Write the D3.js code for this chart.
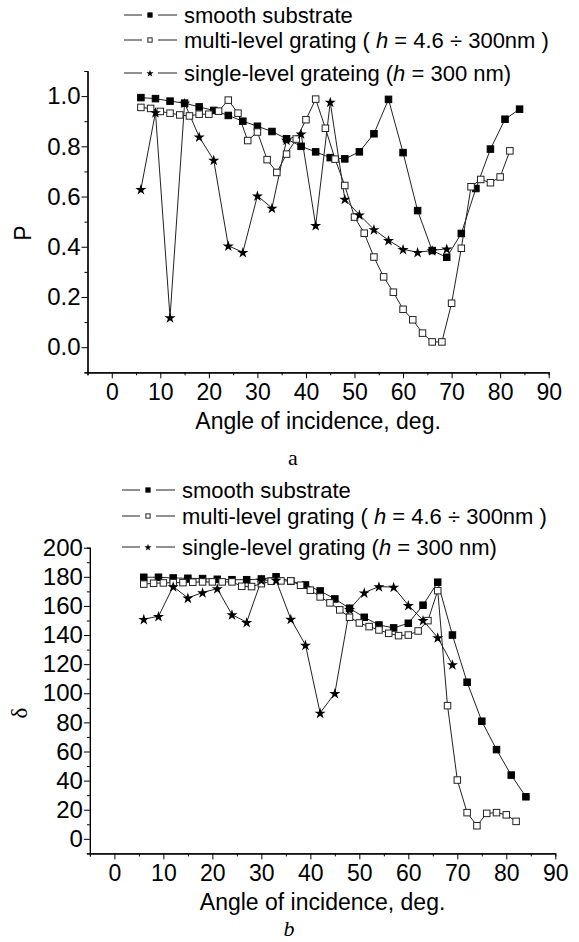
<!DOCTYPE html>
<html>
<head>
<meta charset="utf-8">
<script src="https://cdn.jsdelivr.net/npm/d3@7"></script>
<style>
  body { margin: 0; background: #fff; }
  text { font-family: "Liberation Sans", Arial, sans-serif; fill: #000; }
</style>
</head>
<body>
<script>
// angles of incidence, deg.
var angSmooth = [6, 9, 12, 15, 18, 21, 24, 27, 30, 33, 36, 39, 42, 45, 48, 51, 54, 57, 60, 63, 66, 69, 72, 75, 78, 81, 84];
var angMulti = [6, 8, 10, 12, 14, 16, 18, 20, 22, 24, 26, 28, 30, 32, 34, 36, 38, 40, 42, 44, 46, 48, 50, 52, 54, 56, 58, 60, 62, 64, 66, 68, 70, 72, 74, 76, 78, 80, 82];
var angSingle = [6, 9, 12, 15, 18, 21, 24, 27, 30, 33, 36, 39, 42, 45, 48, 51, 54, 57, 60, 63, 66, 69];

// panel a: P
var pSmooth = [0.994, 0.99, 0.98, 0.972, 0.957, 0.943, 0.923, 0.90, 0.88, 0.859, 0.83, 0.80, 0.778, 0.755, 0.75, 0.778, 0.85, 0.987, 0.775, 0.544, 0.385, 0.358, 0.453, 0.632, 0.789, 0.908, 0.948];
var pMulti = [0.955, 0.951, 0.939, 0.932, 0.925, 0.921, 0.928, 0.928, 0.94, 0.984, 0.932, 0.823, 0.857, 0.747, 0.696, 0.769, 0.829, 0.906, 0.988, 0.872, 0.749, 0.644, 0.518, 0.454, 0.359, 0.28, 0.219, 0.151, 0.109, 0.056, 0.021, 0.021, 0.175, 0.394, 0.639, 0.668, 0.655, 0.678, 0.782];
var pSingle = [0.629, 0.935, 0.118, 0.972, 0.838, 0.745, 0.404, 0.378, 0.603, 0.554, 0.825, 0.85, 0.485, 0.976, 0.59, 0.527, 0.469, 0.426, 0.39, 0.378, 0.385, 0.392];

// panel b: delta
var dSmooth = [179.7, 179.7, 179.2, 179, 178.8, 178.3, 178, 178, 178.5, 180, 177, 174.4, 170.3, 164.8, 158.4, 152.2, 146.9, 144.9, 148.1, 160.5, 176.3, 140, 107.6, 80.8, 61.3, 43.8, 28.9];
var dMulti = [175, 175.6, 175.8, 176, 176, 176.3, 176.5, 176.5, 176.5, 176.5, 173.5, 173.3, 175.3, 177, 177.2, 177.2, 174.2, 170.8, 166.2, 162.1, 157.3, 152.2, 148.3, 145.8, 143.5, 141.2, 139.6, 140, 142.8, 149.9, 170.5, 91.5, 40.4, 18, 9, 17.5, 18, 16.5, 12];
var dSingle = [150.9, 152.9, 173.3, 165.5, 169.2, 171.9, 154, 148.8, 177.7, 177.7, 151, 133.2, 86.5, 100, 157.7, 169.1, 173.3, 172.9, 160.5, 150.2, 138.2, 119.7];

var xMajor = [0, 10, 20, 30, 40, 50, 60, 70, 80, 90];
var xMinor = [-5, 5, 15, 25, 35, 45, 55, 65, 75, 85];
var pMajor = [0, 0.2, 0.4, 0.6, 0.8, 1.0];
var pMinor = [-0.1, 0.1, 0.3, 0.5, 0.7, 0.9, 1.1];
var dMajor = [0, 20, 40, 60, 80, 100, 120, 140, 160, 180, 200];
var dMinor = [-10, 10, 30, 50, 70, 90, 110, 130, 150, 170, 190];

var w = 579, h = 942;
var svg = d3.select("body").append("svg").attr("width", w).attr("height", h);

function panel(opt) {
    var x = d3.scaleLinear().domain([-5, 90]).range(opt.xr);
    var y = d3.scaleLinear().domain(opt.yd).range(opt.yr);
    var g = svg.append("g");

    // axes: major + minor ticks
    g.append("g").attr("transform", "translate(0," + opt.yr[0] + ")")
        .call(d3.axisBottom(x).tickValues(xMinor).tickSize(3).tickFormat(""));
    g.append("g").attr("transform", "translate(0," + opt.yr[0] + ")")
        .call(d3.axisBottom(x).tickValues(xMajor).tickSize(6).tickPadding(3).tickSizeOuter(0))
        .selectAll("text").attr("font-size", "23px").attr("dy", "0.82em");
    g.append("g").attr("transform", "translate(" + opt.xr[0] + ",0)")
        .call(d3.axisLeft(y).tickValues(opt.minor).tickSize(3).tickFormat(""));
    g.append("g").attr("transform", "translate(" + opt.xr[0] + ",0)")
        .call(d3.axisLeft(y).tickValues(opt.major).tickSize(6).tickPadding(1).tickSizeOuter(0).tickFormat(opt.fmt))
        .selectAll("text").attr("font-size", "24px").attr("text-anchor", "end");
    g.selectAll(".domain").attr("stroke", "#000").attr("stroke-width", 1.2);
    g.selectAll(".tick line").attr("stroke", "#000");

    // axis titles
    g.append("text").attr("x", (opt.xr[0] + opt.xr[1]) / 2).attr("y", opt.yr[0] + 57)
        .attr("text-anchor", "middle").attr("font-size", "23px").text("Angle of incidence, deg.");
    g.append("text").attr("transform", "translate(" + opt.ylx + "," + opt.yly + ") rotate(-90)")
        .attr("text-anchor", "middle").attr("font-size", opt.ylsize)
        .style("font-family", opt.ylfont).text(opt.ylabel);
    g.append("text").attr("x", opt.capx).attr("y", opt.capy).attr("text-anchor", "middle")
        .attr("font-size", "22px").style("font-family", "'Liberation Serif', serif")
        .style("font-style", opt.capstyle).text(opt.cap);

    var line = d3.line().x(d => x(d[0])).y(d => y(d[1]));
    var series = [
        { a: angSmooth, v: opt.s, kind: "fill" },
        { a: angMulti, v: opt.m, kind: "open" },
        { a: angSingle, v: opt.t, kind: "star" }
    ];
    series.forEach(function (s) {
        var pts = s.a.map((a, i) => [a, s.v[i]]);
        g.append("path").datum(pts).attr("d", line)
            .attr("fill", "none").attr("stroke", "#222").attr("stroke-width", 1);
    });
    series.forEach(function (s) {
        var pts = s.a.map((a, i) => [a, s.v[i]]);
        drawMarks(g, pts.map(p => [x(p[0]), y(p[1])]), s.kind, 1);
    });

    // legend
    opt.legend.forEach(function (L, i) {
        var ly = opt.legy[i];
        var lx = opt.legx;
        g.append("line").attr("x1", lx).attr("x2", lx + 18).attr("y1", ly).attr("y2", ly)
            .attr("stroke", "#222").attr("stroke-width", 1);
        g.append("line").attr("x1", lx + 34).attr("x2", lx + 53).attr("y1", ly).attr("y2", ly)
            .attr("stroke", "#222").attr("stroke-width", 1);
        drawMarks(g, [[lx + 26, ly]], series[i].kind, 0.65);
        var t = g.append("text").attr("x", lx + 60).attr("y", ly).attr("dy", "0.36em")
            .attr("font-size", "22px");
        L.forEach(function (part) {
            t.append("tspan").style("font-style", part[1] ? "italic" : "normal").text(part[0]);
        });
    });
}

function drawMarks(g, pts, kind, sc) {
    if (kind === "star") {
        g.selectAll(null).data(pts).enter().append("path")
            .attr("d", d3.symbol(d3.symbolStar, 38 * sc * sc))
            .attr("transform", d => "translate(" + d[0] + "," + (d[1] + 0.5) + ")")
            .attr("fill", "#000");
    } else {
        var s = 6.5 * sc;
        g.selectAll(null).data(pts).enter().append("rect")
            .attr("x", d => d[0] - s / 2).attr("y", d => d[1] - s / 2)
            .attr("width", s).attr("height", s)
            .attr("fill", kind === "fill" ? "#000" : "#fff")
            .attr("stroke", kind === "fill" ? "#000" : "#222").attr("stroke-width", 1);
    }
}

panel({
    xr: [87.5, 548.7], yd: [-0.1, 1.1], yr: [372.3, 71],
    major: pMajor, minor: pMinor, fmt: d3.format(".1f"),
    s: pSmooth, m: pMulti, t: pSingle,
    ylabel: "P", ylx: 31, yly: 233, ylsize: "23px", ylfont: "'Liberation Sans', sans-serif",
    cap: "a", capx: 293, capy: 465, capstyle: "normal",
    legx: 124, legy: [15, 40, 73],
    legend: [
        [["smooth substrate", false]],
        [["multi-level grating ( ", false], ["h", true], [" = 4.6 \u00f7 300nm )", false]],
        [["single-level grateing (", false], ["h", true], [" = 300 nm)", false]]
    ]
});

panel({
    xr: [89.9, 555.3], yd: [-10, 200], yr: [853.4, 547.7],
    major: dMajor, minor: dMinor, fmt: d3.format("d"),
    s: dSmooth, m: dMulti, t: dSingle,
    ylabel: "\u03b4", ylx: 27, yly: 713, ylsize: "23px", ylfont: "'Liberation Serif', serif",
    cap: "b", capx: 289, capy: 936, capstyle: "italic",
    legx: 122, legy: [490, 516, 547],
    legend: [
        [["smooth substrate", false]],
        [["multi-level grating ( ", false], ["h", true], [" = 4.6 \u00f7 300nm )", false]],
        [["single-level grating (", false], ["h", true], [" = 300 nm)", false]]
    ]
});
</script>
</body>
</html>
